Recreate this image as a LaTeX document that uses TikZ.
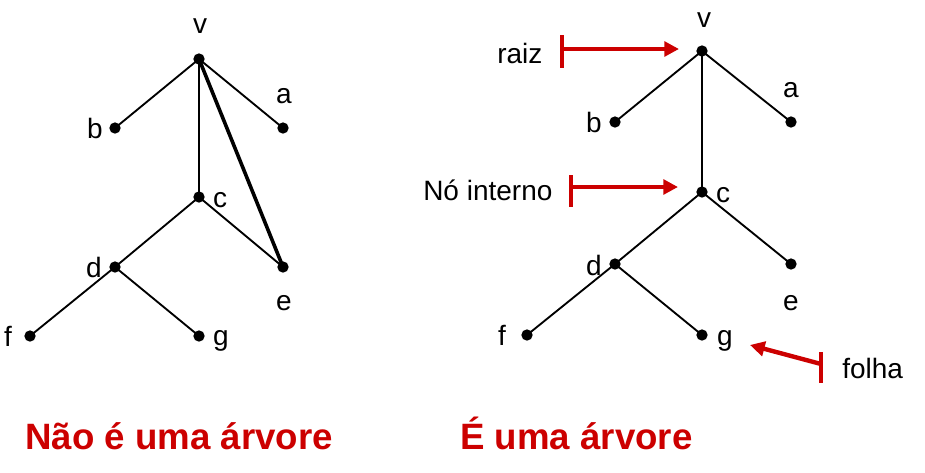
\documentclass[tikz,border=0pt]{standalone}
\usepackage{fontspec}
\setmainfont{Liberation Sans}
\usetikzlibrary{arrows.meta}
\definecolor{tred}{RGB}{204,0,0}
\begin{document}
\begin{tikzpicture}[x=0.75pt,y=-0.75pt,
  dot/.style={circle,fill=black,inner sep=0pt,minimum size=8.5pt},
  lbl/.style={anchor=base,font=\fontsize{21}{21}\selectfont,inner sep=0pt},
  note/.style={anchor=base west,font=\fontsize{21}{21}\selectfont,inner sep=0pt},
  title/.style={anchor=base west,font=\fontsize{27.5}{27.5}\selectfont\bfseries,text=tred,inner sep=0pt},
  edge/.style={line width=1.4pt},
  bold edge/.style={line width=2.7pt},
  pointer/.style={draw=tred,line width=3.3pt,-{Triangle[length=11pt,width=11pt]}},
  pbar/.style={draw=tred,line width=3.3pt}]
\useasboundingbox (0,0) rectangle (925,472);
% ---------- left graph ----------
\node[dot] (Lv) at (199,59) {};
\node[dot] (Lb) at (115,128) {};
\node[dot] (La) at (283,128) {};
\node[dot] (Lc) at (199,197) {};
\node[dot] (Ld) at (115,267) {};
\node[dot] (Le) at (283,267) {};
\node[dot] (Lf) at (30,336) {};
\node[dot] (Lg) at (199,336) {};
\draw[edge] (Lv.center) -- (Lb.center);
\draw[edge] (Lv.center) -- (La.center);
\draw[edge] (Lv.center) -- (Lc.center);
\draw[bold edge] (Lv.center) -- (Le.center);
\draw[edge] (Lc.center) -- (Ld.center);
\draw[edge] (Lc.center) -- (Le.center);
\draw[edge] (Ld.center) -- (Lf.center);
\draw[edge] (Ld.center) -- (Lg.center);
\node[lbl] (Lvl) at (200,33) {v};
\node[lbl] (Lal) at (284,103) {a};
\node[lbl] (Lbl) at (95,138) {b};
\node[lbl] (Lcl) at (220,207) {c};
\node[lbl] (Ldl) at (94,277) {d};
\node[lbl] (Lel) at (284,310) {e};
\node[lbl] (Lfl) at (8,346) {f};
\node[lbl] (Lgl) at (221,345) {g};
% ---------- right graph ----------
\node[dot] (Rv) at (702,51) {};
\node[dot] (Rb) at (615,122) {};
\node[dot] (Ra) at (791,122) {};
\node[dot] (Rc) at (702,192) {};
\node[dot] (Rd) at (615,264) {};
\node[dot] (Re) at (791,264) {};
\node[dot] (Rf) at (527,335) {};
\node[dot] (Rg) at (702,335) {};
\draw[edge] (Rv.center) -- (Rb.center);
\draw[edge] (Rv.center) -- (Ra.center);
\draw[edge] (Rv.center) -- (Rc.center);
\draw[edge] (Rc.center) -- (Rd.center);
\draw[edge] (Rc.center) -- (Re.center);
\draw[edge] (Rd.center) -- (Rf.center);
\draw[edge] (Rd.center) -- (Rg.center);
\node[lbl] (Rvl) at (704,27) {v};
\node[lbl] (Ral) at (791,97) {a};
\node[lbl] (Rbl) at (594,132) {b};
\node[lbl] (Rcl) at (723,202) {c};
\node[lbl] (Rdl) at (594,275) {d};
\node[lbl] (Rel) at (791,310) {e};
\node[lbl] (Rfl) at (502,345) {f};
\node[lbl] (Rgl) at (725,345) {g};
% ---------- annotations ----------
\node[note] (raiz) at (497,63) {raiz};
\coordinate (raizA) at (562,35);
\coordinate (raizB) at (562,68);
\coordinate (raizS) at (562,49);
\coordinate (raizT) at (679,49);
\draw[pbar] (raizA) -- (raizB);
\draw[pointer] (raizS) -- (raizT);

\node[note] (interno) at (423,200) {Nó interno};
\coordinate (intA) at (571,175);
\coordinate (intB) at (571,207);
\coordinate (intS) at (571,187);
\coordinate (intT) at (678,187);
\draw[pbar] (intA) -- (intB);
\draw[pointer] (intS) -- (intT);

\node[note] (folha) at (842,378) {folha};
\coordinate (folA) at (821,352);
\coordinate (folB) at (821,383);
\coordinate (folS) at (821,364);
\coordinate (folT) at (750,345);
\draw[pbar] (folA) -- (folB);
\draw[pointer] (folS) -- (folT);
% ---------- titles ----------
\node[title] (t1) at (25,449) {Não é uma árvore};
\node[title] (t2) at (460,449) {É uma árvore};
\end{tikzpicture}
\end{document}
